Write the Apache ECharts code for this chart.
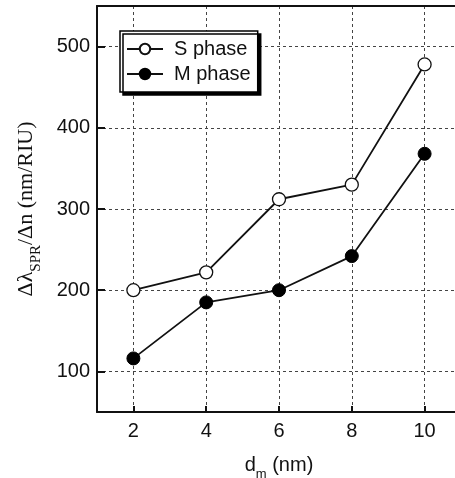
<!DOCTYPE html>
<html><head><meta charset="utf-8">
<script src="https://cdn.jsdelivr.net/npm/echarts@6/dist/echarts.min.js"></script>
<style>html,body{margin:0;padding:0;background:#fff}#c{width:455px;height:478px}</style>
</head><body><div id="c"></div>
<script>
const xValues = [2, 4, 6, 8, 10];
const sPhase = [200, 222, 312, 330, 478];
const mPhase = [116, 185, 200, 242, 368];
const xTicks = [2, 4, 6, 8, 10];
const yTicks = [100, 200, 300, 400, 500];

const chart = echarts.init(document.getElementById('c'), null, {renderer: 'canvas'});
const sans = 'Liberation Sans, Arial, sans-serif';
const serif = 'Liberation Serif, Times New Roman, serif';
const gridLine = {show: true, lineStyle: {color: '#444', width: 1, type: [3, 3]}};
chart.setOption({
  animation: false,
  backgroundColor: '#fff',
  grid: {left: 97, width: 364, top: 6, bottom: 66, outerBoundsMode: 'none', containLabel: false},
  legend: {
    left: 120, top: 31,
    orient: 'vertical',
    itemWidth: 36, itemHeight: 13, itemGap: 5,
    padding: [8, 7, 8, 6],
    backgroundColor: '#fff',
    borderColor: '#000', borderWidth: 1.5, borderRadius: 0,
    shadowColor: '#000', shadowBlur: 0, shadowOffsetX: 3, shadowOffsetY: 3,
    textStyle: {fontFamily: sans, fontSize: 20, color: '#111', padding: [0, 0, 0, 6]},
    data: ['S phase', 'M phase']
  },
  xAxis: [{
    type: 'value', min: 1, max: 11,
    name: '{a|d}{s|m}{a| (nm)}',
    nameLocation: 'middle', nameGap: 43,
    nameTextStyle: {rich: {
      a: {fontFamily: sans, fontSize: 20, color: '#111'},
      s: {fontFamily: sans, fontSize: 13, color: '#111', verticalAlign: 'bottom', padding: [0, 0, -6, 0]}
    }},
    axisLine: {lineStyle: {color: '#111', width: 2}},
    axisTick: {inside: true, length: 6, lineStyle: {width: 2, color: '#111'}, customValues: xTicks},
    axisLabel: {fontFamily: sans, fontSize: 20, color: '#111', margin: 9, customValues: xTicks},
    splitLine: gridLine
  }, {
    type: 'value', min: 1, max: 11, position: 'top',
    axisLine: {show: true, lineStyle: {color: '#111', width: 2}},
    axisTick: {show: false}, axisLabel: {show: false}, splitLine: {show: false}
  }],
  yAxis: {
    type: 'value', min: 50, max: 550,
    name: '{a|Δλ}{s|SPR}{a|/Δn (nm/RIU)}',
    nameLocation: 'middle', nameGap: 60, nameRotate: 90,
    nameTextStyle: {rich: {
      a: {fontFamily: serif, fontSize: 22, color: '#111'},
      s: {fontFamily: serif, fontSize: 15, color: '#111', verticalAlign: 'bottom', padding: [0, 0, -7, 0]}
    }},
    axisLine: {show: true, lineStyle: {color: '#111', width: 2}},
    axisTick: {inside: true, length: 8, lineStyle: {width: 2, color: '#111'}, customValues: yTicks},
    axisLabel: {fontFamily: sans, fontSize: 20, color: '#111', margin: 7, customValues: yTicks},
    splitLine: gridLine
  },
  series: [{
    name: 'S phase', type: 'line',
    data: xValues.map((x, i) => [x, sPhase[i]]),
    symbol: 'circle', symbolSize: 13,
    lineStyle: {color: '#111', width: 1.8},
    itemStyle: {color: '#fff', borderColor: '#111', borderWidth: 1.3},
    z: 3
  }, {
    name: 'M phase', type: 'line',
    data: xValues.map((x, i) => [x, mPhase[i]]),
    symbol: 'circle', symbolSize: 13,
    lineStyle: {color: '#111', width: 1.8},
    itemStyle: {color: '#000', borderColor: '#000', borderWidth: 1},
    z: 3
  }]
});
</script></body></html>
